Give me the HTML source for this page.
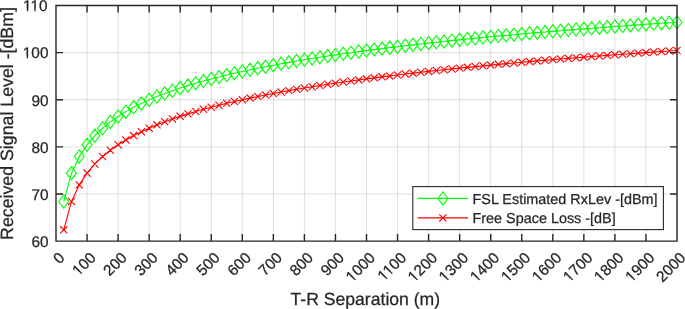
<!DOCTYPE html>
<html><head><meta charset="utf-8"><style>
html,body{margin:0;padding:0;background:#fff;}
svg{display:block;will-change:transform;text-rendering:geometricPrecision;}
text{font-family:"Liberation Sans",sans-serif;fill:#262626;stroke:#262626;stroke-width:0.25px;}
</style></head><body>
<svg width="685" height="309" viewBox="0 0 685 309">
<rect x="0" y="0" width="685" height="309" fill="#fff"/>
<path d="M87.05 5.50V241.10M118.10 5.50V241.10M149.15 5.50V241.10M180.20 5.50V241.10M211.25 5.50V241.10M242.30 5.50V241.10M273.35 5.50V241.10M304.40 5.50V241.10M335.45 5.50V241.10M366.50 5.50V241.10M397.55 5.50V241.10M428.60 5.50V241.10M459.65 5.50V241.10M490.70 5.50V241.10M521.75 5.50V241.10M552.80 5.50V241.10M583.85 5.50V241.10M614.90 5.50V241.10M645.95 5.50V241.10M56.00 193.98H677.00M56.00 146.86H677.00M56.00 99.74H677.00M56.00 52.62H677.00" stroke="#262626" stroke-opacity="0.15" stroke-width="1" fill="none"/>
<polyline points="63.76,201.57 71.53,173.20 79.29,156.60 87.05,144.83 94.81,135.70 102.58,128.23 110.34,121.92 118.10,116.46 125.86,111.64 133.62,107.33 141.39,103.43 149.15,99.86 156.91,96.59 164.68,93.56 172.44,90.73 180.20,88.09 187.96,85.61 195.72,83.27 203.49,81.06 211.25,78.96 219.01,76.96 226.78,75.06 234.54,73.24 242.30,71.50 250.06,69.82 257.82,68.22 265.59,66.67 273.35,65.19 281.11,63.75 288.88,62.36 296.64,61.02 304.40,59.72 312.16,58.46 319.93,57.24 327.69,56.05 335.45,54.90 343.21,53.78 350.98,52.69 358.74,51.62 366.50,50.59 374.26,49.58 382.02,48.59 389.79,47.63 397.55,46.69 405.31,45.77 413.07,44.87 420.84,43.99 428.60,43.13 436.36,42.28 444.12,41.46 451.89,40.64 459.65,39.85 467.41,39.07 475.18,38.31 482.94,37.55 490.70,36.82 498.46,36.09 506.23,35.38 513.99,34.68 521.75,33.99 529.51,33.32 537.27,32.65 545.04,32.00 552.80,31.35 560.56,30.72 568.33,30.09 576.09,29.48 583.85,28.87 591.61,28.27 599.38,27.68 607.14,27.10 614.90,26.53 622.66,25.97 630.42,25.41 638.19,24.86 645.95,24.32 653.71,23.78 661.48,23.26 669.24,22.73 677.00,22.22" stroke="#00ff00" stroke-width="1.1" fill="none"/>
<path d="M58.76 201.57L63.76 194.97L68.76 201.57L63.76 208.17ZM66.53 173.20L71.53 166.60L76.53 173.20L71.53 179.80ZM74.29 156.60L79.29 150.00L84.29 156.60L79.29 163.20ZM82.05 144.83L87.05 138.23L92.05 144.83L87.05 151.43ZM89.81 135.70L94.81 129.10L99.81 135.70L94.81 142.30ZM97.58 128.23L102.58 121.63L107.58 128.23L102.58 134.83ZM105.34 121.92L110.34 115.32L115.34 121.92L110.34 128.52ZM113.10 116.46L118.10 109.86L123.10 116.46L118.10 123.06ZM120.86 111.64L125.86 105.04L130.86 111.64L125.86 118.24ZM128.62 107.33L133.62 100.73L138.62 107.33L133.62 113.93ZM136.39 103.43L141.39 96.83L146.39 103.43L141.39 110.03ZM144.15 99.86L149.15 93.26L154.15 99.86L149.15 106.46ZM151.91 96.59L156.91 89.99L161.91 96.59L156.91 103.19ZM159.68 93.56L164.68 86.96L169.68 93.56L164.68 100.16ZM167.44 90.73L172.44 84.13L177.44 90.73L172.44 97.33ZM175.20 88.09L180.20 81.49L185.20 88.09L180.20 94.69ZM182.96 85.61L187.96 79.01L192.96 85.61L187.96 92.21ZM190.72 83.27L195.72 76.67L200.72 83.27L195.72 89.87ZM198.49 81.06L203.49 74.46L208.49 81.06L203.49 87.66ZM206.25 78.96L211.25 72.36L216.25 78.96L211.25 85.56ZM214.01 76.96L219.01 70.36L224.01 76.96L219.01 83.56ZM221.78 75.06L226.78 68.46L231.78 75.06L226.78 81.66ZM229.54 73.24L234.54 66.64L239.54 73.24L234.54 79.84ZM237.30 71.50L242.30 64.90L247.30 71.50L242.30 78.10ZM245.06 69.82L250.06 63.22L255.06 69.82L250.06 76.42ZM252.82 68.22L257.82 61.62L262.82 68.22L257.82 74.82ZM260.59 66.67L265.59 60.07L270.59 66.67L265.59 73.27ZM268.35 65.19L273.35 58.59L278.35 65.19L273.35 71.79ZM276.11 63.75L281.11 57.15L286.11 63.75L281.11 70.35ZM283.88 62.36L288.88 55.76L293.88 62.36L288.88 68.96ZM291.64 61.02L296.64 54.42L301.64 61.02L296.64 67.62ZM299.40 59.72L304.40 53.12L309.40 59.72L304.40 66.32ZM307.16 58.46L312.16 51.86L317.16 58.46L312.16 65.06ZM314.93 57.24L319.93 50.64L324.93 57.24L319.93 63.84ZM322.69 56.05L327.69 49.45L332.69 56.05L327.69 62.65ZM330.45 54.90L335.45 48.30L340.45 54.90L335.45 61.50ZM338.21 53.78L343.21 47.18L348.21 53.78L343.21 60.38ZM345.98 52.69L350.98 46.09L355.98 52.69L350.98 59.29ZM353.74 51.62L358.74 45.02L363.74 51.62L358.74 58.22ZM361.50 50.59L366.50 43.99L371.50 50.59L366.50 57.19ZM369.26 49.58L374.26 42.98L379.26 49.58L374.26 56.18ZM377.02 48.59L382.02 41.99L387.02 48.59L382.02 55.19ZM384.79 47.63L389.79 41.03L394.79 47.63L389.79 54.23ZM392.55 46.69L397.55 40.09L402.55 46.69L397.55 53.29ZM400.31 45.77L405.31 39.17L410.31 45.77L405.31 52.37ZM408.07 44.87L413.07 38.27L418.07 44.87L413.07 51.47ZM415.84 43.99L420.84 37.39L425.84 43.99L420.84 50.59ZM423.60 43.13L428.60 36.53L433.60 43.13L428.60 49.73ZM431.36 42.28L436.36 35.68L441.36 42.28L436.36 48.88ZM439.12 41.46L444.12 34.86L449.12 41.46L444.12 48.06ZM446.89 40.64L451.89 34.04L456.89 40.64L451.89 47.24ZM454.65 39.85L459.65 33.25L464.65 39.85L459.65 46.45ZM462.41 39.07L467.41 32.47L472.41 39.07L467.41 45.67ZM470.18 38.31L475.18 31.71L480.18 38.31L475.18 44.91ZM477.94 37.55L482.94 30.95L487.94 37.55L482.94 44.15ZM485.70 36.82L490.70 30.22L495.70 36.82L490.70 43.42ZM493.46 36.09L498.46 29.49L503.46 36.09L498.46 42.69ZM501.23 35.38L506.23 28.78L511.23 35.38L506.23 41.98ZM508.99 34.68L513.99 28.08L518.99 34.68L513.99 41.28ZM516.75 33.99L521.75 27.39L526.75 33.99L521.75 40.59ZM524.51 33.32L529.51 26.72L534.51 33.32L529.51 39.92ZM532.27 32.65L537.27 26.05L542.27 32.65L537.27 39.25ZM540.04 32.00L545.04 25.40L550.04 32.00L545.04 38.60ZM547.80 31.35L552.80 24.75L557.80 31.35L552.80 37.95ZM555.56 30.72L560.56 24.12L565.56 30.72L560.56 37.32ZM563.33 30.09L568.33 23.49L573.33 30.09L568.33 36.69ZM571.09 29.48L576.09 22.88L581.09 29.48L576.09 36.08ZM578.85 28.87L583.85 22.27L588.85 28.87L583.85 35.47ZM586.61 28.27L591.61 21.67L596.61 28.27L591.61 34.87ZM594.38 27.68L599.38 21.08L604.38 27.68L599.38 34.28ZM602.14 27.10L607.14 20.50L612.14 27.10L607.14 33.70ZM609.90 26.53L614.90 19.93L619.90 26.53L614.90 33.13ZM617.66 25.97L622.66 19.37L627.66 25.97L622.66 32.57ZM625.42 25.41L630.42 18.81L635.42 25.41L630.42 32.01ZM633.19 24.86L638.19 18.26L643.19 24.86L638.19 31.46ZM640.95 24.32L645.95 17.72L650.95 24.32L645.95 30.92ZM648.71 23.78L653.71 17.18L658.71 23.78L653.71 30.38ZM656.48 23.26L661.48 16.66L666.48 23.26L661.48 29.86ZM664.24 22.73L669.24 16.13L674.24 22.73L669.24 29.33ZM672.00 22.22L677.00 15.62L682.00 22.22L677.00 28.82Z" stroke="#00ff00" stroke-width="1.1" fill="none" stroke-linejoin="miter"/>
<polyline points="63.76,229.84 71.53,201.47 79.29,184.87 87.05,173.10 94.81,163.97 102.58,156.51 110.34,150.20 118.10,144.73 125.86,139.91 133.62,135.60 141.39,131.70 149.15,128.14 156.91,124.86 164.68,121.83 172.44,119.00 180.20,116.36 187.96,113.88 195.72,111.54 203.49,109.33 211.25,107.23 219.01,105.23 226.78,103.33 234.54,101.51 242.30,99.77 250.06,98.10 257.82,96.49 265.59,94.95 273.35,93.46 281.11,92.02 288.88,90.63 296.64,89.29 304.40,87.99 312.16,86.73 319.93,85.51 327.69,84.33 335.45,83.17 343.21,82.05 350.98,80.96 358.74,79.90 366.50,78.86 374.26,77.85 382.02,76.86 389.79,75.90 397.55,74.96 405.31,74.04 413.07,73.14 420.84,72.26 428.60,71.40 436.36,70.55 444.12,69.73 451.89,68.92 459.65,68.12 467.41,67.34 475.18,66.58 482.94,65.83 490.70,65.09 498.46,64.36 506.23,63.65 513.99,62.95 521.75,62.27 529.51,61.59 537.27,60.92 545.04,60.27 552.80,59.62 560.56,58.99 568.33,58.36 576.09,57.75 583.85,57.14 591.61,56.55 599.38,55.96 607.14,55.38 614.90,54.80 622.66,54.24 630.42,53.68 638.19,53.13 645.95,52.59 653.71,52.06 661.48,51.53 669.24,51.01 677.00,50.49" stroke="#ff0000" stroke-width="1.1" fill="none"/>
<path d="M60.16 226.24L67.36 233.44M60.16 233.44L67.36 226.24M67.93 197.87L75.12 205.07M67.93 205.07L75.12 197.87M75.69 181.27L82.89 188.47M75.69 188.47L82.89 181.27M83.45 169.50L90.65 176.70M83.45 176.70L90.65 169.50M91.21 160.37L98.41 167.57M91.21 167.57L98.41 160.37M98.98 152.91L106.17 160.11M98.98 160.11L106.17 152.91M106.74 146.60L113.94 153.80M106.74 153.80L113.94 146.60M114.50 141.13L121.70 148.33M114.50 148.33L121.70 141.13M122.26 136.31L129.46 143.51M122.26 143.51L129.46 136.31M130.03 132.00L137.22 139.20M130.03 139.20L137.22 132.00M137.79 128.10L144.99 135.30M137.79 135.30L144.99 128.10M145.55 124.54L152.75 131.74M145.55 131.74L152.75 124.54M153.31 121.26L160.51 128.46M153.31 128.46L160.51 121.26M161.08 118.23L168.28 125.43M161.08 125.43L168.28 118.23M168.84 115.40L176.04 122.60M168.84 122.60L176.04 115.40M176.60 112.76L183.80 119.96M176.60 119.96L183.80 112.76M184.36 110.28L191.56 117.48M184.36 117.48L191.56 110.28M192.12 107.94L199.32 115.14M192.12 115.14L199.32 107.94M199.89 105.73L207.09 112.93M199.89 112.93L207.09 105.73M207.65 103.63L214.85 110.83M207.65 110.83L214.85 103.63M215.41 101.63L222.61 108.83M215.41 108.83L222.61 101.63M223.18 99.73L230.38 106.93M223.18 106.93L230.38 99.73M230.94 97.91L238.14 105.11M230.94 105.11L238.14 97.91M238.70 96.17L245.90 103.37M238.70 103.37L245.90 96.17M246.46 94.50L253.66 101.70M246.46 101.70L253.66 94.50M254.22 92.89L261.43 100.09M254.22 100.09L261.43 92.89M261.99 91.35L269.19 98.55M261.99 98.55L269.19 91.35M269.75 89.86L276.95 97.06M269.75 97.06L276.95 89.86M277.51 88.42L284.71 95.62M277.51 95.62L284.71 88.42M285.27 87.03L292.48 94.23M285.27 94.23L292.48 87.03M293.04 85.69L300.24 92.89M293.04 92.89L300.24 85.69M300.80 84.39L308.00 91.59M300.80 91.59L308.00 84.39M308.56 83.13L315.76 90.33M308.56 90.33L315.76 83.13M316.32 81.91L323.53 89.11M316.32 89.11L323.53 81.91M324.09 80.73L331.29 87.93M324.09 87.93L331.29 80.73M331.85 79.57L339.05 86.77M331.85 86.77L339.05 79.57M339.61 78.45L346.81 85.65M339.61 85.65L346.81 78.45M347.38 77.36L354.58 84.56M347.38 84.56L354.58 77.36M355.14 76.30L362.34 83.50M355.14 83.50L362.34 76.30M362.90 75.26L370.10 82.46M362.90 82.46L370.10 75.26M370.66 74.25L377.86 81.45M370.66 81.45L377.86 74.25M378.42 73.26L385.62 80.46M378.42 80.46L385.62 73.26M386.19 72.30L393.39 79.50M386.19 79.50L393.39 72.30M393.95 71.36L401.15 78.56M393.95 78.56L401.15 71.36M401.71 70.44L408.91 77.64M401.71 77.64L408.91 70.44M409.47 69.54L416.68 76.74M409.47 76.74L416.68 69.54M417.24 68.66L424.44 75.86M417.24 75.86L424.44 68.66M425.00 67.80L432.20 75.00M425.00 75.00L432.20 67.80M432.76 66.95L439.96 74.15M432.76 74.15L439.96 66.95M440.52 66.13L447.73 73.33M440.52 73.33L447.73 66.13M448.29 65.32L455.49 72.52M448.29 72.52L455.49 65.32M456.05 64.52L463.25 71.72M456.05 71.72L463.25 64.52M463.81 63.74L471.01 70.94M463.81 70.94L471.01 63.74M471.57 62.98L478.78 70.18M471.57 70.18L478.78 62.98M479.34 62.23L486.54 69.43M479.34 69.43L486.54 62.23M487.10 61.49L494.30 68.69M487.10 68.69L494.30 61.49M494.86 60.76L502.06 67.96M494.86 67.96L502.06 60.76M502.62 60.05L509.83 67.25M502.62 67.25L509.83 60.05M510.39 59.35L517.59 66.55M510.39 66.55L517.59 59.35M518.15 58.67L525.35 65.87M518.15 65.87L525.35 58.67M525.91 57.99L533.11 65.19M525.91 65.19L533.11 57.99M533.67 57.32L540.88 64.52M533.67 64.52L540.88 57.32M541.44 56.67L548.64 63.87M541.44 63.87L548.64 56.67M549.20 56.02L556.40 63.22M549.20 63.22L556.40 56.02M556.96 55.39L564.16 62.59M556.96 62.59L564.16 55.39M564.73 54.76L571.93 61.96M564.73 61.96L571.93 54.76M572.49 54.15L579.69 61.35M572.49 61.35L579.69 54.15M580.25 53.54L587.45 60.74M580.25 60.74L587.45 53.54M588.01 52.95L595.21 60.15M588.01 60.15L595.21 52.95M595.77 52.36L602.98 59.56M595.77 59.56L602.98 52.36M603.54 51.78L610.74 58.98M603.54 58.98L610.74 51.78M611.30 51.20L618.50 58.40M611.30 58.40L618.50 51.20M619.06 50.64L626.26 57.84M619.06 57.84L626.26 50.64M626.82 50.08L634.02 57.28M626.82 57.28L634.02 50.08M634.59 49.53L641.79 56.73M634.59 56.73L641.79 49.53M642.35 48.99L649.55 56.19M642.35 56.19L649.55 48.99M650.11 48.46L657.31 55.66M650.11 55.66L657.31 48.46M657.88 47.93L665.08 55.13M657.88 55.13L665.08 47.93M665.64 47.41L672.84 54.61M665.64 54.61L672.84 47.41M673.40 46.89L680.60 54.09M673.40 54.09L680.60 46.89" stroke="#ff0000" stroke-width="1.1" fill="none"/>
<path d="M56.00 5.50H677.00V241.10H56.00ZM56.00 241.10v-6.3M56.00 5.50v6.3M87.05 241.10v-6.3M87.05 5.50v6.3M118.10 241.10v-6.3M118.10 5.50v6.3M149.15 241.10v-6.3M149.15 5.50v6.3M180.20 241.10v-6.3M180.20 5.50v6.3M211.25 241.10v-6.3M211.25 5.50v6.3M242.30 241.10v-6.3M242.30 5.50v6.3M273.35 241.10v-6.3M273.35 5.50v6.3M304.40 241.10v-6.3M304.40 5.50v6.3M335.45 241.10v-6.3M335.45 5.50v6.3M366.50 241.10v-6.3M366.50 5.50v6.3M397.55 241.10v-6.3M397.55 5.50v6.3M428.60 241.10v-6.3M428.60 5.50v6.3M459.65 241.10v-6.3M459.65 5.50v6.3M490.70 241.10v-6.3M490.70 5.50v6.3M521.75 241.10v-6.3M521.75 5.50v6.3M552.80 241.10v-6.3M552.80 5.50v6.3M583.85 241.10v-6.3M583.85 5.50v6.3M614.90 241.10v-6.3M614.90 5.50v6.3M645.95 241.10v-6.3M645.95 5.50v6.3M677.00 241.10v-6.3M677.00 5.50v6.3M56.00 241.10h6.3M677.00 241.10h-6.3M56.00 193.98h6.3M677.00 193.98h-6.3M56.00 146.86h6.3M677.00 146.86h-6.3M56.00 99.74h6.3M677.00 99.74h-6.3M56.00 52.62h6.3M677.00 52.62h-6.3M56.00 5.50h6.3M677.00 5.50h-6.3" stroke="#262626" stroke-width="1.4" fill="none" stroke-linecap="square"/>
<g transform="translate(48.50 246.90)"><text x="0" y="0.00" font-size="15.4" text-anchor="end">60</text></g>
<g transform="translate(48.50 199.78)"><text x="0" y="0.00" font-size="15.4" text-anchor="end">70</text></g>
<g transform="translate(48.50 152.66)"><text x="0" y="0.00" font-size="15.4" text-anchor="end">80</text></g>
<g transform="translate(48.50 105.54)"><text x="0" y="0.00" font-size="15.4" text-anchor="end">90</text></g>
<g transform="translate(48.50 58.42)"><text x="0" y="0.00" font-size="15.4" text-anchor="end">100</text><rect x="-25.32" y="-2.45" width="3.50" height="3.35" fill="#fff"/><rect x="-20.46" y="-2.45" width="3.38" height="3.35" fill="#fff"/></g>
<g transform="translate(47.60 11.30)"><text x="0" y="0.00" font-size="15.4" text-anchor="end">110</text><rect x="-24.18" y="-2.45" width="3.50" height="3.35" fill="#fff"/><rect x="-19.32" y="-2.45" width="3.38" height="3.35" fill="#fff"/><rect x="-16.76" y="-2.45" width="3.50" height="3.35" fill="#fff"/><rect x="-11.90" y="-2.45" width="3.38" height="3.35" fill="#fff"/></g>
<g transform="translate(62.70 255.70) rotate(-45)"><text x="0" y="4.20" font-size="15.4" text-anchor="end">0</text></g>
<g transform="translate(93.75 255.70) rotate(-45)"><text x="0" y="4.20" font-size="15.4" text-anchor="end">100</text><rect x="-25.32" y="1.75" width="3.50" height="3.35" fill="#fff"/><rect x="-20.46" y="1.75" width="3.38" height="3.35" fill="#fff"/></g>
<g transform="translate(124.80 255.70) rotate(-45)"><text x="0" y="4.20" font-size="15.4" text-anchor="end">200</text></g>
<g transform="translate(155.85 255.70) rotate(-45)"><text x="0" y="4.20" font-size="15.4" text-anchor="end">300</text></g>
<g transform="translate(186.90 255.70) rotate(-45)"><text x="0" y="4.20" font-size="15.4" text-anchor="end">400</text></g>
<g transform="translate(217.95 255.70) rotate(-45)"><text x="0" y="4.20" font-size="15.4" text-anchor="end">500</text></g>
<g transform="translate(249.00 255.70) rotate(-45)"><text x="0" y="4.20" font-size="15.4" text-anchor="end">600</text></g>
<g transform="translate(280.05 255.70) rotate(-45)"><text x="0" y="4.20" font-size="15.4" text-anchor="end">700</text></g>
<g transform="translate(311.10 255.70) rotate(-45)"><text x="0" y="4.20" font-size="15.4" text-anchor="end">800</text></g>
<g transform="translate(342.15 255.70) rotate(-45)"><text x="0" y="4.20" font-size="15.4" text-anchor="end">900</text></g>
<g transform="translate(373.20 255.70) rotate(-45)"><text x="0" y="4.20" font-size="15.4" text-anchor="end">1000</text><rect x="-33.89" y="1.75" width="3.50" height="3.35" fill="#fff"/><rect x="-29.03" y="1.75" width="3.38" height="3.35" fill="#fff"/></g>
<g transform="translate(404.25 255.70) rotate(-45)"><text x="0" y="4.20" font-size="15.4" text-anchor="end">1100</text><rect x="-32.74" y="1.75" width="3.50" height="3.35" fill="#fff"/><rect x="-27.88" y="1.75" width="3.38" height="3.35" fill="#fff"/><rect x="-25.32" y="1.75" width="3.50" height="3.35" fill="#fff"/><rect x="-20.46" y="1.75" width="3.38" height="3.35" fill="#fff"/></g>
<g transform="translate(435.30 255.70) rotate(-45)"><text x="0" y="4.20" font-size="15.4" text-anchor="end">1200</text><rect x="-33.89" y="1.75" width="3.50" height="3.35" fill="#fff"/><rect x="-29.03" y="1.75" width="3.38" height="3.35" fill="#fff"/></g>
<g transform="translate(466.35 255.70) rotate(-45)"><text x="0" y="4.20" font-size="15.4" text-anchor="end">1300</text><rect x="-33.89" y="1.75" width="3.50" height="3.35" fill="#fff"/><rect x="-29.03" y="1.75" width="3.38" height="3.35" fill="#fff"/></g>
<g transform="translate(497.40 255.70) rotate(-45)"><text x="0" y="4.20" font-size="15.4" text-anchor="end">1400</text><rect x="-33.89" y="1.75" width="3.50" height="3.35" fill="#fff"/><rect x="-29.03" y="1.75" width="3.38" height="3.35" fill="#fff"/></g>
<g transform="translate(528.45 255.70) rotate(-45)"><text x="0" y="4.20" font-size="15.4" text-anchor="end">1500</text><rect x="-33.89" y="1.75" width="3.50" height="3.35" fill="#fff"/><rect x="-29.03" y="1.75" width="3.38" height="3.35" fill="#fff"/></g>
<g transform="translate(559.50 255.70) rotate(-45)"><text x="0" y="4.20" font-size="15.4" text-anchor="end">1600</text><rect x="-33.89" y="1.75" width="3.50" height="3.35" fill="#fff"/><rect x="-29.03" y="1.75" width="3.38" height="3.35" fill="#fff"/></g>
<g transform="translate(590.55 255.70) rotate(-45)"><text x="0" y="4.20" font-size="15.4" text-anchor="end">1700</text><rect x="-33.89" y="1.75" width="3.50" height="3.35" fill="#fff"/><rect x="-29.03" y="1.75" width="3.38" height="3.35" fill="#fff"/></g>
<g transform="translate(621.60 255.70) rotate(-45)"><text x="0" y="4.20" font-size="15.4" text-anchor="end">1800</text><rect x="-33.89" y="1.75" width="3.50" height="3.35" fill="#fff"/><rect x="-29.03" y="1.75" width="3.38" height="3.35" fill="#fff"/></g>
<g transform="translate(652.65 255.70) rotate(-45)"><text x="0" y="4.20" font-size="15.4" text-anchor="end">1900</text><rect x="-33.89" y="1.75" width="3.50" height="3.35" fill="#fff"/><rect x="-29.03" y="1.75" width="3.38" height="3.35" fill="#fff"/></g>
<g transform="translate(683.70 255.70) rotate(-45)"><text x="0" y="4.20" font-size="15.4" text-anchor="end">2000</text></g>
<text x="365.35" y="305" font-size="17.6" text-anchor="middle">T-R Separation (m)</text>
<text x="0" y="0" font-size="17.75" text-anchor="middle" transform="translate(13.2 123.5) rotate(-90)">Received Signal Level -[dBm]</text>
<rect x="412.8" y="186.6" width="250.60" height="43.00" fill="#fff" stroke="#262626" stroke-width="1.1"/>
<path d="M417.8 198.4H468" stroke="#00ff00" stroke-width="1.1"/>
<path d="M437.90 198.4L442.9 191.80L447.90 198.4L442.9 205.00Z" stroke="#00ff00" stroke-width="1.1" fill="none"/>
<path d="M417.8 217.9H468" stroke="#ff0000" stroke-width="1.1"/>
<path d="M439.30 214.30L446.50 221.50M439.30 221.50L446.50 214.30" stroke="#ff0000" stroke-width="1.1"/>
<text x="472.5" y="204" font-size="14.4" fill="#000" stroke="#000">FSL Estimated RxLev -[dBm]</text>
<text x="472.5" y="223" font-size="14.4" fill="#000" stroke="#000">Free Space Loss -[dB]</text>
</svg>
</body></html>
